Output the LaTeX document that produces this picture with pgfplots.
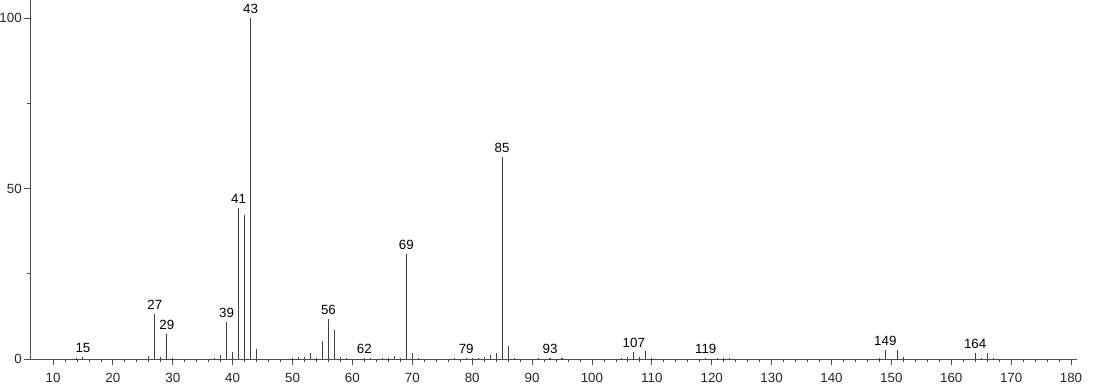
\documentclass[border=0pt]{standalone}
\usepackage{pgfplots}
\pgfplotsset{compat=1.18}
\usepackage{pgfplotstable}
\usepackage{fontspec}
\setmainfont{Liberation Sans}
\pgfplotstableread{
x y
14 0.3
15 0.5
26 0.8
27 13.2
28 0.5
29 7.5
30 0.3
37 0.3
38 1.1
39 10.8
40 2.2
41 44.4
42 42.4
43 100
44 3.1
50 0.2
51 0.5
52 0.5
53 1.7
54 0.4
55 5.3
56 11.9
57 8.5
58 0.5
59 0.3
62 0.3
63 0.2
65 0.3
66 0.4
67 0.8
68 0.4
69 30.8
70 1.7
71 0.3
77 0.2
79 0.3
80 0.2
81 0.4
82 0.6
83 1.1
84 1.7
85 59.3
86 3.8
87 0.4
91 0.2
93 0.3
95 0.2
105 0.3
106 0.5
107 2.2
108 0.6
109 2.4
110 0.2
119 0.3
121 0.4
122 0.3
123 0.3
148 0.4
149 2.8
151 2.6
152 0.5
164 1.7
165 0.3
166 1.7
167 0.3
}\peaks
\pgfplotstableread{
x y lab
15 0.5 15
27 13.2 27
29 7.5 29
39 10.8 39
41 44.4 41
43 100 43
56 11.9 56
62 0.3 62
69 30.8 69
79 0.3 79
85 59.3 85
93 0.3 93
107 2.2 107
119 0.3 119
149 2.8 149
164 1.7 164
}\labels
\begin{document}
\begin{tikzpicture}
\begin{axis}[
  name=ax,
  scale only axis,
  width=785pt, height=269.25pt,
  xmin=6.16, xmax=181, ymin=0, ymax=105.3,
  axis lines=left,
  axis line style={-, black!70, line width=0.6pt},
  xtick={10,20,...,180},
  minor xtick={12,14,...,180},
  ytick={0,50,100},
  minor ytick={25,75},
  tick align=outside,
  major tick length=4.5pt,
  minor tick length=2.5pt,
  tick style={black!70, line width=0.6pt},
  tick label style={font=\fontsize{10}{12}\selectfont, black!85},
  xticklabel style={anchor=north, inner sep=0pt, yshift=-6pt},
  yticklabel style={anchor=east, inner sep=0pt, xshift=-1.5pt},
  /pgf/number format/assume math mode=true,
  clip=false,
]
\addplot[ycomb, black!75, line width=0.8pt, mark=none] table[x=x,y=y] {\peaks};
\addplot[only marks, mark=none, draw=none,
  nodes near coords, point meta=explicit symbolic,
  every node near coord/.style={font=\fontsize{10}{12}\selectfont, black, inner sep=1pt, anchor=south, yshift=2pt}]
  table[x=x,y=y,meta=lab] {\labels};
\end{axis}
\pgfresetboundingbox
\path[use as bounding box] ([xshift=-22.5pt,yshift=-18.75pt]ax.south west) rectangle ([xshift=12.75pt]ax.north east);
\end{tikzpicture}
\end{document}
